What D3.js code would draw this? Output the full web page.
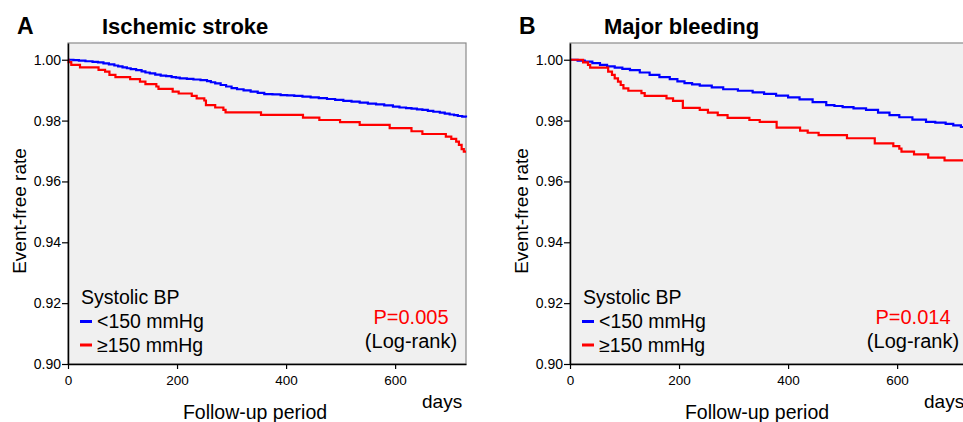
<!DOCTYPE html>
<html lang="en">
<head>
  <meta charset="UTF-8">
  <title>Kaplan-Meier by systolic BP</title>
  <script src="https://d3js.org/d3.v7.min.js"></script>
  <style>
    body { margin: 0; background: #fff; }
    svg { display: block; font-family: "Liberation Sans", Arial, sans-serif; }
  </style>
</head>
<body>
<script>
  // ticks
  var dayTicks = [0, 200, 400, 600];
  var rateTicks = [0.90, 0.92, 0.94, 0.96, 0.98, 1.00];

  // panel A - ischemic stroke, [day, event-free rate]
  var strokeLow = [[0,1.0],[10,0.9999],[20,0.9997],[32,0.9995],[45,0.9993],[55,0.9991],[65,0.9988],[75,0.9985],
    [85,0.9981],[92,0.9978],[100,0.9975],[108,0.9972],[115,0.9969],[125,0.9966],[135,0.9962],[142,0.9958],
    [150,0.9955],[160,0.9951],[170,0.9948],[180,0.9946],[190,0.9943],[198,0.9941],[205,0.9939],[218,0.9937],
    [230,0.9935],[243,0.9933],[255,0.993],[262,0.9926],[270,0.9922],[280,0.9917],[290,0.9912],[300,0.9907],
    [310,0.9903],[322,0.9899],[335,0.9895],[348,0.9891],[360,0.9887],[375,0.9886],[390,0.9884],[402,0.9883],
    [415,0.9881],[430,0.9879],[445,0.9876],[460,0.9874],[475,0.9871],[490,0.9868],[505,0.9865],[520,0.9862],
    [535,0.9859],[550,0.9856],[565,0.9853],[580,0.985],[596,0.9846],[608,0.9843],[620,0.9841],[630,0.9839],
    [640,0.9837],[650,0.9835],[660,0.9832],[670,0.9829],[682,0.9826],[691,0.9823],[700,0.982],[708,0.9818],
    [715,0.9815],[723,0.9813],[730,0.981]];
  var strokeHigh = [[0,1.0],[1,0.9992],[6,0.9983],[22,0.9975],[56,0.9967],[68,0.9961],[76,0.995],[87,0.9943],
    [114,0.9936],[132,0.9928],[142,0.992],[162,0.9912],[166,0.9904],[192,0.9895],[203,0.9889],[227,0.9881],
    [236,0.9873],[250,0.9866],[253,0.9851],[270,0.9843],[285,0.9835],[289,0.9827],[354,0.9819],[431,0.981],
    [461,0.9802],[499,0.9795],[535,0.9786],[590,0.9775],[630,0.9765],[650,0.9756],[693,0.9747],[703,0.974],
    [712,0.9731],[717,0.972],[722,0.9706],[726,0.9698],[730,0.9698]];

  // panel B - major bleeding
  var bleedLow = [[0,1.0],[14,0.9997],[27,0.9994],[41,0.9989],[55,0.9983],[68,0.9978],[82,0.9974],[96,0.997],
    [110,0.9966],[128,0.9958],[146,0.995],[164,0.9943],[183,0.9936],[197,0.9929],[210,0.9923],[224,0.9919],
    [238,0.9915],[260,0.9909],[281,0.9903],[308,0.9898],[335,0.9893],[356,0.9888],[378,0.9882],[400,0.9876],
    [421,0.987],[445,0.9861],[470,0.9851],[485,0.9848],[500,0.9844],[520,0.984],[543,0.9835],[565,0.9826],
    [586,0.9818],[604,0.9811],[628,0.9803],[653,0.9796],[670,0.9793],[689,0.9789],[703,0.9784],[717,0.9779],
    [730,0.9775]];
  var bleedHigh = [[0,1.0],[24,0.9991],[33,0.9983],[37,0.9974],[70,0.9961],[77,0.995],[82,0.9939],[88,0.9928],
    [93,0.9917],[98,0.9906],[107,0.9898],[131,0.989],[137,0.9881],[177,0.9873],[189,0.9865],[207,0.9842],
    [238,0.9835],[253,0.9826],[271,0.9818],[289,0.9809],[329,0.9802],[348,0.9796],[379,0.9777],[422,0.9767],
    [436,0.976],[456,0.9752],[508,0.9742],[559,0.9725],[593,0.9716],[604,0.9708],[608,0.9698],[631,0.9689],
    [657,0.9678],[687,0.9669],[730,0.9669]];

  var panels = [
    { letter: "A", title: "Ischemic stroke", left: 68, low: strokeLow, high: strokeHigh, p: "P=0.005" },
    { letter: "B", title: "Major bleeding", left: 570, low: bleedLow, high: bleedHigh, p: "P=0.014" }
  ];

  var svg = d3.select("body").append("svg")
    .attr("width", 963)
    .attr("height", 422);

  var plotTop = 43, plotBottom = 364, plotWidth = 398;

  var y = d3.scaleLinear().domain([0.90, 1.0055]).range([plotBottom, plotTop]);

  panels.forEach(function(p) {
    var x = d3.scaleLinear().domain([0, 730]).range([p.left, p.left + plotWidth]);
    var g = svg.append("g");

    // grey plot box
    g.append("rect")
      .attr("x", p.left).attr("y", plotTop)
      .attr("width", plotWidth).attr("height", plotBottom - plotTop)
      .attr("fill", "#f0f0f0")
      .attr("stroke", "#8a8a8a")
      .attr("stroke-width", 1.2);

    // curves
    var line = d3.line()
      .x(function(d) { return x(d[0]); })
      .y(function(d) { return y(d[1]); })
      .curve(d3.curveStepAfter);

    g.append("path").datum(p.low)
      .attr("d", line).attr("fill", "none")
      .attr("stroke", "#0000ff").attr("stroke-width", 2.2);
    g.append("path").datum(p.high)
      .attr("d", line).attr("fill", "none")
      .attr("stroke", "#ff0000").attr("stroke-width", 2.2);

    // axes
    var yAxis = g.append("g")
      .attr("transform", "translate(" + p.left + ",0)")
      .call(d3.axisLeft(y).tickValues(rateTicks).tickFormat(d3.format(".2f"))
        .tickSize(6).tickSizeOuter(0).tickPadding(1));
    var xAxis = g.append("g")
      .attr("transform", "translate(0," + plotBottom + ")")
      .call(d3.axisBottom(x).tickValues(dayTicks).tickFormat(d3.format("d"))
        .tickSize(5).tickSizeOuter(0).tickPadding(6));

    [yAxis, xAxis].forEach(function(a) {
      a.select(".domain").attr("stroke", "#000").attr("stroke-width", 1.5);
      a.selectAll(".tick line").attr("stroke", "#000").attr("stroke-width", 1.2);
      a.selectAll("text").attr("fill", "#000").style("font-family", "Liberation Sans, Arial, sans-serif");
    });
    yAxis.selectAll("text").style("font-size", "14px");
    xAxis.selectAll("text").style("font-size", "13.5px");

    // titles
    g.append("text")
      .attr("x", p.left - 51).attr("y", 34)
      .style("font-size", "23px").style("font-weight", "bold")
      .text(p.letter);
    g.append("text")
      .attr("x", p.left + 34).attr("y", 34)
      .style("font-size", "22px").style("font-weight", "bold")
      .text(p.title);

    // axis titles
    g.append("text")
      .attr("transform", "translate(" + (p.left - 42) + ",211) rotate(-90)")
      .attr("text-anchor", "middle")
      .style("font-size", "19px")
      .text("Event-free rate");
    g.append("text")
      .attr("x", p.left + 187).attr("y", 419)
      .attr("text-anchor", "middle")
      .style("font-size", "19.5px")
      .text("Follow-up period");
    g.append("text")
      .attr("x", p.left + 354).attr("y", 408)
      .style("font-size", "19px")
      .text("days");

    // legend
    g.append("text")
      .attr("x", p.left + 13).attr("y", 304)
      .style("font-size", "19.5px")
      .text("Systolic BP");
    var keys = [["<150 mmHg", "#0000ff", 328], ["≥150 mmHg", "#ff0000", 351.5]];
    keys.forEach(function(k) {
      g.append("line")
        .attr("x1", p.left + 12).attr("x2", p.left + 24)
        .attr("y1", k[2] - 6.5).attr("y2", k[2] - 6.5)
        .attr("stroke", k[1]).attr("stroke-width", 3);
      g.append("text")
        .attr("x", p.left + 29).attr("y", k[2])
        .style("font-size", "19.5px")
        .text(k[0]);
    });

    // log-rank
    g.append("text")
      .attr("x", p.left + 343).attr("y", 324)
      .attr("text-anchor", "middle")
      .attr("fill", "#ff0000")
      .style("font-size", "20px")
      .text(p.p);
    g.append("text")
      .attr("x", p.left + 343).attr("y", 348)
      .attr("text-anchor", "middle")
      .style("font-size", "20px")
      .text("(Log-rank)");
  });
</script>
</body>
</html>
